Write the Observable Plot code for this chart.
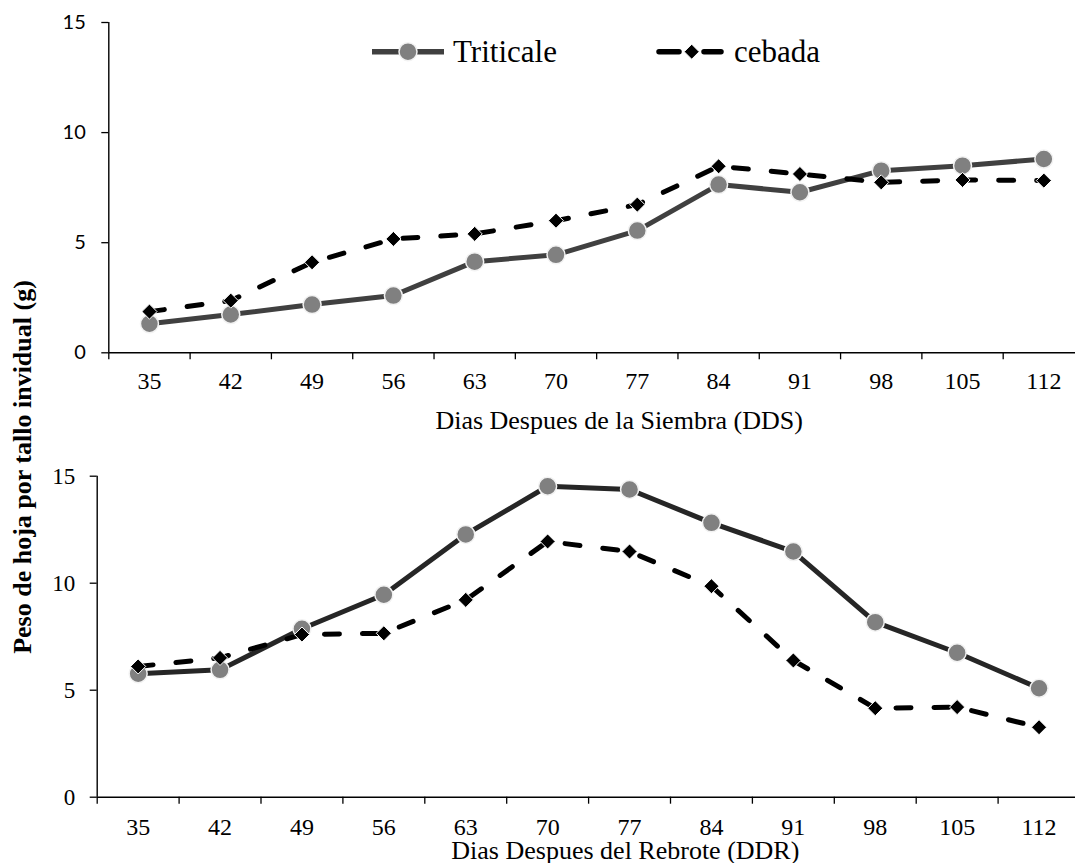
<!DOCTYPE html>
<html><head><meta charset="utf-8">
<script src="https://cdn.jsdelivr.net/npm/d3@7"></script>
<script src="https://cdn.jsdelivr.net/npm/@observablehq/plot@0.6"></script>
<style>
html,body{margin:0;padding:0;background:#fff;overflow:hidden;}
#wrap{position:relative;width:1075px;height:863px;overflow:hidden;}
#wrap > svg{position:absolute;left:0;overflow:visible;}
</style></head><body><div id="wrap"></div>
<script>
// ---- data ----
const days = [35, 42, 49, 56, 63, 70, 77, 84, 91, 98, 105, 112];
const triticaleDDS = [1.32, 1.74, 2.19, 2.60, 4.14, 4.45, 5.55, 7.64, 7.29, 8.27, 8.50, 8.80];
const cebadaDDS    = [1.87, 2.37, 4.11, 5.17, 5.40, 6.00, 6.73, 8.47, 8.12, 7.74, 7.85, 7.82];
const triticaleDDR = [5.77, 5.95, 7.87, 9.46, 12.28, 14.53, 14.38, 12.82, 11.48, 8.18, 6.75, 5.09];
const cebadaDDR    = [6.11, 6.51, 7.60, 7.66, 9.22, 11.95, 11.48, 9.86, 6.39, 4.16, 4.21, 3.27];
const seriesNames = ["Triticale", "cebada"];
const yTicks = [0, 5, 10, 15];
const xTitleTop = "Dias Despues de la Siembra (DDS)";
const xTitleBottom = "Dias Despues del Rebrote (DDR)";
const yTitle = "Peso de hoja por tallo invidual (g)";

const SERIF = "'Liberation Serif', 'Times New Roman', serif";
const wrap = document.getElementById("wrap");

function rows(vals) { return days.map((d, i) => ({day: d, v: vals[i]})); }

function panel(o) {
  const step = days[1] - days[0];
  const edges = [...days.map(d => d - step / 2), days[days.length - 1] + step / 2];
  const tri = rows(o.tri), ceb = rows(o.ceb);
  return Plot.plot({
    width: 1075, height: o.height,
    marginLeft: o.xRange[0], marginRight: 0, marginTop: o.yTop, marginBottom: o.height - o.yBottom,
    x: {type: "linear", domain: [edges[0], edges[edges.length - 1]], range: o.xRange},
    y: {domain: [0, 15]},
    style: {fontFamily: SERIF, background: "transparent", color: "black"},
    marks: [
      Plot.axisY({ticks: yTicks, tickSize: 7, tickPadding: o.yPad, fontSize: o.yFontSize, fontFamily: o.yFont, label: null, strokeWidth: 1.3, tickFormat: d => String(d)}),
      Plot.axisX({ticks: edges, tickSize: 7, tickFormat: () => "", label: null, strokeWidth: 1.3}),
      Plot.axisX({ticks: days, tickSize: 0, tickPadding: o.xPad, fontSize: 24, fontFamily: SERIF, label: null, tickFormat: d => String(d)}),
      Plot.ruleY([0], {stroke: "black", strokeWidth: 1.4}),
      Plot.ruleX([edges[0]], {stroke: "black", strokeWidth: 1.4}),
      Plot.line(tri, {x: "day", y: "v", stroke: o.triColor, strokeWidth: 5}),
      Plot.dot(tri, {x: "day", y: "v", r: 9, fill: "#808080", stroke: "#f2f2f2", strokeWidth: 1.5}),
      Plot.line(ceb, {x: "day", y: "v", stroke: "black", strokeWidth: 5, strokeDasharray: "15,23", strokeLinecap: "round"}),
      Plot.dot(ceb, {x: "day", y: "v", symbol: "diamond2", r: 6.8, fill: "black", stroke: "white", strokeWidth: 1}),
      Plot.text([o.title], {frameAnchor: "bottom", lineAnchor: "middle", dx: o.titleDx, dy: o.titleDy, fontSize: 26, fontFamily: SERIF, fill: "black"})
    ]
  });
}

const topPanel = panel({
  tri: triticaleDDS, ceb: cebadaDDS, height: 430,
  xRange: [108.3, 1084], yTop: 22, yBottom: 352.3,
  yPad: 16, yFontSize: 20, yFont: "Lato, 'Open Sans', sans-serif",
  xPad: 19.5, triColor: "#404040",
  title: xTitleTop, titleDx: 27, titleDy: 67.4
});
topPanel.style.top = "0px";
wrap.appendChild(topPanel);

const bottomPanel = panel({
  tri: triticaleDDR, ceb: cebadaDDR, height: 433,
  xRange: [96.7, 1079.5], yTop: 45.7, yBottom: 366.7,
  yPad: 15, yFontSize: 23, yFont: SERIF,
  xPad: 20.8, triColor: "#262626",
  title: xTitleBottom, titleDx: 39, titleDy: 53
});
bottomPanel.style.top = "430px";
wrap.appendChild(bottomPanel);

// ---- overlay: shared y title + legend ----
const ov = d3.select(wrap).append("svg")
  .attr("width", 1075).attr("height", 863).style("top", "0px");

ov.append("text")
  .attr("transform", "translate(31,467) rotate(-90)")
  .attr("text-anchor", "middle")
  .attr("font-family", SERIF).attr("font-weight", "bold").attr("font-size", 26)
  .text(yTitle);

const lg = ov.append("g");
// Triticale
lg.append("line").attr("x1", 372).attr("x2", 444).attr("y1", 51.7).attr("y2", 51.7)
  .attr("stroke", "#404040").attr("stroke-width", 5.5);
lg.append("circle").attr("cx", 408).attr("cy", 51.7).attr("r", 9)
  .attr("fill", "#808080").attr("stroke", "#f2f2f2").attr("stroke-width", 1.5);
lg.append("text").attr("x", 453).attr("y", 61.7)
  .attr("font-family", SERIF).attr("font-size", 31).text(seriesNames[0]);
// cebada
lg.append("line").attr("x1", 659).attr("x2", 679).attr("y1", 51.7).attr("y2", 51.7)
  .attr("stroke", "black").attr("stroke-width", 5.5).attr("stroke-linecap", "round");
lg.append("line").attr("x1", 704).attr("x2", 721).attr("y1", 51.7).attr("y2", 51.7)
  .attr("stroke", "black").attr("stroke-width", 5.5).attr("stroke-linecap", "round");
lg.append("path").attr("d", "M691.7,44.2L699.2,51.7L691.7,59.2L684.2,51.7Z")
  .attr("fill", "black").attr("stroke", "white").attr("stroke-width", 1);
lg.append("text").attr("x", 734).attr("y", 61.7)
  .attr("font-family", SERIF).attr("font-size", 31).text(seriesNames[1]);
</script></body></html>
